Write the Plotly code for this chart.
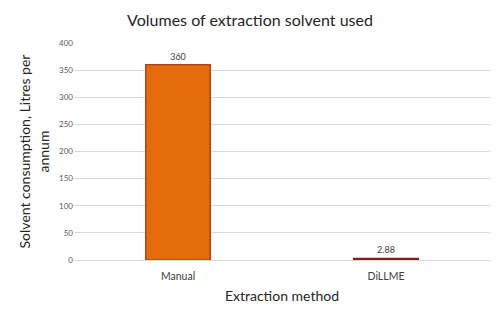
import plotly.graph_objects as go

categories = ["Manual", "DiLLME"]
values = [360, 2.88]
value_labels = ["360", "2.88"]
fill_colors = ["#E46C0A", "#A3262A"]
edge_colors = ["#B5441A", "#8B1A1F"]
y_ticks = [0, 50, 100, 150, 200, 250, 300, 350, 400]

fig = go.Figure()
fig.add_trace(go.Bar(
    x=categories, y=values,
    text=value_labels, textposition="outside",
    textfont=dict(size=9, color="#404040", family="Lato"),
    marker=dict(color=fill_colors, line=dict(color=edge_colors, width=1.5)),
    width=0.31, cliponaxis=False,
))
fig.update_layout(
    width=500, height=316,
    margin=dict(l=74, r=10, t=43, b=56),
    paper_bgcolor="white", plot_bgcolor="white",
    font=dict(family="Lato", color="#262626"),
    title=dict(text="Volumes of extraction solvent used", x=0.5, xanchor="center",
               y=0.935, yanchor="middle", xref="container",
               font=dict(size=16, color="#262626", family="Lato")),
    showlegend=False,
    bargap=0.69,
)
fig.update_xaxes(
    title=dict(text="Extraction method", font=dict(size=14, color="#262626"), standoff=10),
    tickfont=dict(size=10.5, color="#404040"),
    showgrid=False, showline=True, linecolor="#D9D9D9", linewidth=1,
    ticks="outside", ticklen=6, tickcolor="rgba(0,0,0,0)",
)
fig.update_yaxes(
    title=dict(text="Solvent consumption, Litres per<br>annum", font=dict(size=14, color="#262626"), standoff=6),
    range=[0, 400], tickvals=y_ticks,
    tickfont=dict(size=8, color="#595959"),
    showgrid=True, gridcolor="#D9D9D9", gridwidth=1,
    zeroline=False, showline=False, ticks="", ticklen=0,
)
fig.write_html("out.html")
